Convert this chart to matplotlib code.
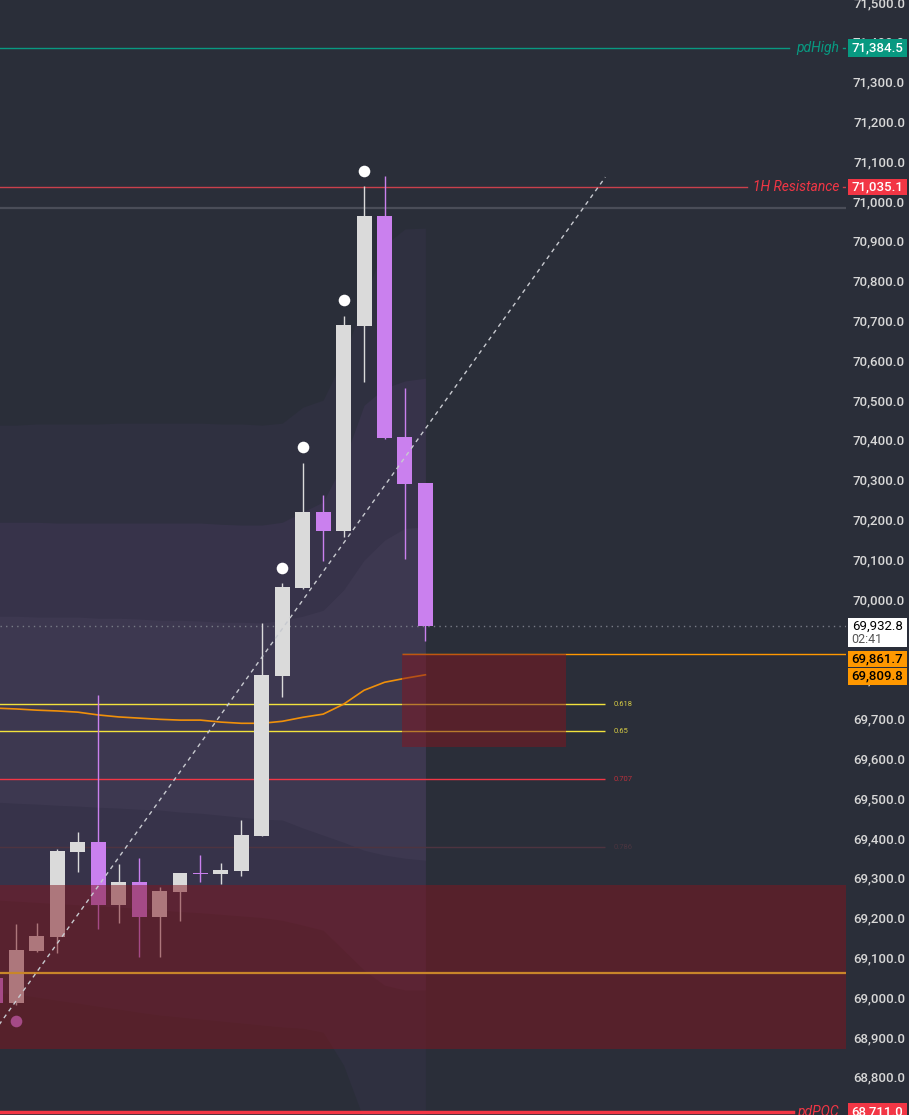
import matplotlib
matplotlib.use("Agg")
import matplotlib.pyplot as plt
import matplotlib.transforms as mtransforms
from matplotlib.patches import Rectangle
from matplotlib.ticker import FuncFormatter, MultipleLocator

plt.rcParams['font.family'] = ['Roboto', 'DejaVu Sans']

# candles, oldest first (bar index 0..21)
opens  = [69048, 68985, 69116, 69151, 69364, 69389, 69231, 69289, 69201, 69264, 69312,
          69309, 69317, 69405, 69807, 70028, 70219, 70171, 70686, 70962, 70407, 70291]
highs  = [69060, 69183, 69186, 69372, 69415, 69759, 69334, 69349, 69276, 69312, 69357,
          69337, 69445, 69940, 70040, 70342, 70261, 70711, 71038, 71063, 70530, 70291]
lows   = [68970, 68980, 69113, 69111, 69314, 69171, 69186, 69101, 69101, 69191, 69289,
          69284, 69304, 69405, 69754, 70026, 70095, 70156, 70545, 70402, 70100, 69895]
closes = [68985, 69118, 69153, 69367, 69389, 69231, 69289, 69201, 69266, 69312, 69310,
          69319, 69407, 69809, 70030, 70219, 70171, 70688, 70962, 70405, 70289, 69932.8]

# orange moving average
ema = [69726, 69724, 69721, 69719, 69716, 69709, 69704, 69701, 69698, 69696, 69696,
       69691, 69688, 69688, 69693, 69703, 69711, 69736, 69771, 69791, 69801, 69809.8]

# shaded bands (upper / lower edges per bar)
band_a_top = [70437, 70437, 70440, 70440, 70440, 70440, 70442, 70442, 70442, 70442, 70442,
              70440, 70440, 70437, 70442, 70482, 70500, 70606, 70751, 70889, 70930, 70932]
band_a_bot = [69012, 69008, 69000, 68992, 68985, 68977, 68970, 68962, 68955, 68950, 68945,
              68940, 68935, 68930, 68925, 68922, 68912, 68829, 68691, 68490, 68490, 68490]
band_b_top = [70193, 70193, 70193, 70191, 70191, 70191, 70191, 70191, 70191, 70191, 70191,
              70188, 70186, 70186, 70193, 70219, 70244, 70344, 70487, 70530, 70548, 70555]
band_b_bot = [69244, 69241, 69238, 69235, 69232, 69229, 69226, 69223, 69219, 69215, 69212,
              69208, 69204, 69200, 69193, 69181, 69168, 69118, 69068, 69030, 69018, 69018]
band_c_top = [69957, 69957, 69955, 69955, 69955, 69952, 69952, 69950, 69947, 69947, 69945,
              69942, 69942, 69940, 69947, 69957, 69972, 70023, 70098, 70148, 70178, 70181]
band_c_bot = [69490, 69487, 69485, 69482, 69480, 69477, 69475, 69472, 69470, 69465, 69462,
              69457, 69452, 69447, 69445, 69425, 69407, 69389, 69369, 69357, 69349, 69344]

pivot_high_idx = [14, 15, 17, 18]
pivot_high_val = [70078, 70382, 70751, 71075]
pivot_low_idx = [1]
pivot_low_val = [68940]

# levels
pd_high = 71384.5
res_1h = 71035.1
gray_level = 70982
last_price = 69932.8
countdown = '02:41'
ob_top = 69861.7
pd_poc = 68711.0
zone_big = (68869, 69281)
zone_big_mid = 69060
zone_small = (69628, 69861.7)
zone_small_x = (19.85, 27.87)

fib_x = [0, 29.8]
fib_price = [68920, 71060]
fib_levels = [0.618, 0.65, 0.707, 0.786]
fib_colors = ['#f2e23c', '#f2e23c', '#f23645', '#4e3440']
fib_text_colors = ['#d6cb45', '#d6cb45', '#b8303c', '#4a3540']

BG = '#2a2e39'
UP = '#dadada'
DOWN = '#ca80ee'

W, H = 909, 1115
fig = plt.figure(figsize=(W / 100, H / 100), dpi=100, facecolor=BG)
ax = fig.add_axes([0, 0, 846 / W, 1])
ax.set_facecolor(BG)
for s in ax.spines.values():
    s.set_visible(False)
ax.set_xlim(0.1956, 41.57)
ax.set_ylim(68704, 71505)
ax.set_xticks([])

idx = list(range(len(opens)))

# bands
ax.fill_between(idx, band_a_bot, band_a_top, color='#2f3040', lw=0, zorder=0.5)
ax.fill_between(idx, band_b_bot, band_b_top, color='#37334a', lw=0, zorder=0.6)
ax.fill_between(idx, band_c_bot, band_c_top, color='#3d3850', lw=0, zorder=0.7)

# horizontal levels
ax.axhline(pd_high, 0, 789 / 846, color='#089981', lw=1, zorder=2)
ax.axhline(pd_high, 843 / 846, 1, color='#089981', lw=1, zorder=2)
ax.axhline(res_1h, 0, 747 / 846, color='#c9404c', lw=1, zorder=2)
ax.axhline(res_1h, 843 / 846, 1, color='#c9404c', lw=1, zorder=2)
ax.axhline(gray_level, color='#4a4d58', lw=1.6, zorder=2)
ax.axhline(last_price, color='#787b86', lw=1, ls=(0, (1, 3)), zorder=2)
ax.axhline(pd_poc, 0, 793 / 846, color='#f23645', lw=2.5, zorder=2)
ax.hlines(ob_top, zone_small_x[0], 45, color='#ff9800', lw=1, zorder=2)
ax.axhline(zone_big_mid, color='#c8862a', lw=1.6, zorder=4.5)

# fib retracement
rng = fib_price[1] - fib_price[0]
for lvl, col, tcol in zip(fib_levels, fib_colors, fib_text_colors):
    p = fib_price[1] - lvl * rng
    ax.hlines(p, fib_x[0], fib_x[1], color=col, lw=1, zorder=2)
    ax.text(fib_x[1] + 0.4, p, f'{lvl:g}', color=tcol, fontsize=5.5,
            va='center', ha='left', zorder=2)
ax.plot(fib_x, fib_price, color='#c8cad0', lw=1, ls=(0, (3, 3)), zorder=5)

# ema
ax.plot(idx, ema, color='#f0900a', lw=1.2, zorder=2)

# candles
for i, (o, h, l, c) in enumerate(zip(opens, highs, lows, closes)):
    col = UP if c >= o else DOWN
    ax.vlines(i, l, h, color=col, lw=1, zorder=3)
    ax.bar(i, max(abs(c - o), 3), bottom=min(o, c), width=0.73, color=col, lw=0, zorder=3)

ax.scatter(pivot_high_idx, pivot_high_val, s=70, color='white', lw=0, zorder=3)
ax.scatter(pivot_low_idx, pivot_low_val, s=70, color=DOWN, lw=0, zorder=3)

# zones
ax.axhspan(zone_big[0], zone_big[1], color='#82161f', alpha=0.5, lw=0, zorder=4)
ax.add_patch(Rectangle((zone_small_x[0], zone_small[0]), zone_small_x[1] - zone_small_x[0],
                       zone_small[1] - zone_small[0], color='#82161f', alpha=0.5, lw=0, zorder=4))

# line labels
tr = mtransforms.blended_transform_factory(fig.transFigure, ax.transData)
ax.text(839 / W, pd_high, 'pdHigh', transform=tr, color='#089981', fontsize=10,
        style='italic', ha='right', va='center')
ax.text(839 / W, res_1h, '1H Resistance', transform=tr, color='#f23645', fontsize=10,
        style='italic', ha='right', va='center')
ax.text(839 / W, pd_poc, 'pdPOC', transform=tr, color='#f23645', fontsize=10,
        style='italic', ha='right', va='center', clip_on=False)

# price scale
ax.yaxis.tick_right()
ax.yaxis.set_major_locator(MultipleLocator(100))
ax.yaxis.set_major_formatter(FuncFormatter(lambda v, _: f'{v:,.1f}'))
ax.tick_params(axis='y', length=0, pad=42.5, labelsize=9.5, labelcolor='#d8d8d8')
for lbl in ax.get_yticklabels():
    lbl.set_horizontalalignment('right')
    lbl.set_fontweight('medium')

PX = (71505 - 68704) / H


def price_tag(price, text, bg, fg, h_px=17):
    ax.add_patch(Rectangle((848 / W, price - h_px / 2 * PX), 59 / W, h_px * PX,
                           transform=tr, facecolor=bg, edgecolor='none', clip_on=False, zorder=10))
    ax.text(877.5 / W, price, text, transform=tr, color=fg, fontsize=9.5, fontweight='medium',
            ha='center', va='center', clip_on=False, zorder=11)


price_tag(pd_high, f'{pd_high:,.1f}', '#089981', 'white', 18)
price_tag(res_1h, f'{res_1h:,.1f}', '#f23645', 'white', 16)
price_tag(ob_top - 5 * PX, f'{ob_top:,.1f}', '#ff9800', 'black', 16)
price_tag(ema[-1] - 1.5 * PX, f'{ema[-1]:,.1f}', '#ff9800', 'black', 17)
price_tag(pd_poc, f'{pd_poc:,.1f}', '#f23645', 'white', 18)

# last price tag with countdown
ax.add_patch(Rectangle((848 / W, last_price - 21 * PX), 59 / W, 29 * PX, transform=tr,
                       facecolor='white', edgecolor='none', clip_on=False, zorder=10))
ax.text(877.5 / W, last_price, f'{last_price:,.1f}', transform=tr, color='black', fontsize=9.5,
        ha='center', va='center', clip_on=False, zorder=11)
ax.text(851 / W, last_price - 14 * PX, countdown, transform=tr, color='#555555', fontsize=9,
        ha='left', va='center', clip_on=False, zorder=11)

fig.savefig('out.png', dpi=100, facecolor=BG)
